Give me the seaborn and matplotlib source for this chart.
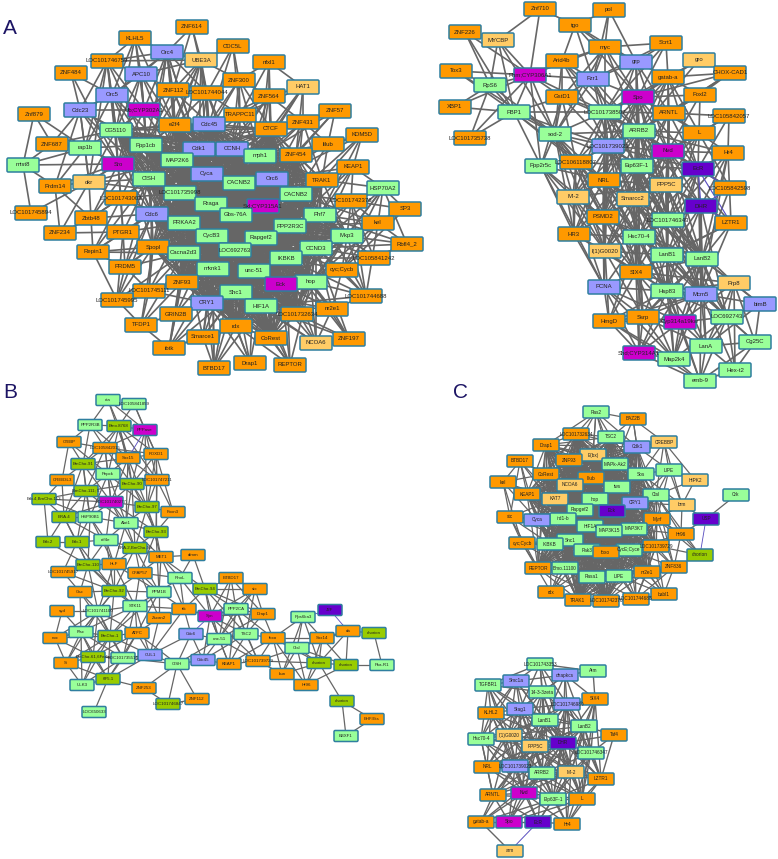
import itertools
import pandas as pd
import matplotlib
matplotlib.use("Agg")
import matplotlib.pyplot as plt
from matplotlib.patches import FancyBboxPatch
import seaborn as sns

# ---------------- NETWORK A (left) ----------------
a_labels = ["ZNF614","KLHL5","CDC5L","Orc4","UBE3A","LOC101746759","nfxl1","ZNF484","APC10","ZNF300",
            "HAT1","ZNF112","LOC101744044","Orc5","ZNF564","Cdc23","Ub;CYP302A1","ZNF57","Znf879","TRAPPC11",
            "ZNF431","Cdc45","e2f4","CTCF","CG5110","KDM5D","lilub","ZNF687","Ppp1cb","rap1b",
            "Cdk1","CCNH","ZNF454","mph1","MAP2K6","Sro","mist8","KEAP1","Cyca","CISH",
            "Orc6","TRAK1","okr","CACNB2","Prdm14","HSP70A2","LOC101735998","CACNB2","LOC101743003","LOC101742376",
            "Rraga","Sxl;CYP315A1","SP3","LOC101745894","Cdc6","Gbs-76A","Phf7","Zbtb48","PRKAA2","kel",
            "PPP2R3C","ZNF234","PTGR1","CycB3","Mkp3","Rapgef2","Rbfl4_2","Spopl","CCND3","LOC692763",
            "Repin1","Cacna2d3","IKBKB","LOC105841242","PRDM5","mknk1","cyc;Cycb","unc-51","ZNF93","hop",
            "Eck","LOC101745111","Shc1","LOC101744688","LOC101745995","CRY1","HIF1A","nr2e1","GRIN2B","LOC101732634",
            "TFDP1","rdx","Smarce1","CoRest","ZNF197","NCOA6","ibtk","Drap1","REPTOR","BTBD17"]
a_x = [192,135,233,167,201,107,269,71,141,239,
       303,173,207,112,269,80,144,335,34,240,
       303,209,175,271,116,362,328,52,146,85,
       199,232,296,260,177,118,23,353,207,149,
       272,322,89,239,55,383,180,296,121,351,
       211,263,405,31,152,236,320,91,184,378,
       290,60,123,212,347,261,407,153,316,235,
       93,184,286,374,125,213,342,254,182,311,
       281,149,236,366,117,207,261,332,176,297,
       141,236,203,271,349,316,169,250,290,214]
a_y = [27,38,46,52,60,61,62,73,74,80,
       87,90,93,95,96,110,110,111,114,115,
       122,124,125,129,130,135,144,144,145,148,
       149,149,155,156,160,164,165,167,174,179,
       179,180,182,183,186,188,193,194,198,201,
       204,206,209,213,214,215,215,218,223,223,
       226,233,232,236,236,238,244,247,248,250,
       252,253,258,258,267,269,270,271,282,282,
       284,291,292,296,300,303,306,309,314,314,
       325,326,337,338,339,343,348,363,365,368]
a_o = [0,1,2,5,6,7,9,11,12,14,17,18,19,20,22,23,25,26,27,32,37,41,44,48,49,52,53,57,59,61,62,66,67,70,73,74,76,78,81,83,84,87,88,89,90,91,92,93,94,96,97,98,99]
a_g = [24,28,29,33,34,36,39,43,45,46,47,50,55,56,58,60,63,64,65,68,69,71,72,75,77,79,82,86]
a_p = [3,8,13,15,21,30,31,38,40,54,85]
a_l = [4,10,42,95]
a_m = [16,35,51,80]
a_d = []
a_v = []

a_core = [21,22,23,24,28,30,31,32,33,34,38,39,40,41,43,46,47,50,51,54,55,56,58,60,63,64,65,67,68,69,71,72,75,77,78,79,80,82,85,86,89,91,93]
a_fans = {0:[3,4,12,11],1:[3,8,13,16,5,22,24],2:[4,9,12,21,19],3:[8,11,13,16,22,28,30,34,38,12,4,39],
          4:[8,11,12,21,22,28,30,34,38,9,39],5:[3,8,13,15,16,24,28,29,35,42,4],6:[9,14,19,23,10,33],7:[13,15,35],
          8:[11,13,16,22,24,28,34,35,39],9:[12,14,19,21,23,30,31,33],10:[14,19,20,23,32,33,43],
          11:[12,16,21,22,28,30,34,38,24],12:[19,21,22,30,31,34,38,43],13:[15,16,24,28,29,35,39,34,22],
          14:[19,20,21,23,31,33,43,40,38],15:[16,24,29,35,42,28,39,44,27],16:[22,24,28,34,35,39,30],
          17:[20,23,26,32,33,40],18:[27,29,36],19:[21,23,30,31,33,38,43,40],20:[23,26,32,33,40,41,43,47],
          25:[26,32,37,40,41,47,56],26:[32,33,40,41,47,43],
          37:[40,41,47,56,60,68,49,45],
          45:[41,49,56,59,60,64,68,76,79],49:[47,56,64,60,68,72,59,73],83:[49,56,64,68,72,76,79,87,59,86],
          52:[45,49,59,64,68,76],66:[59,73,64,76,68,56,45],59:[56,60,64,68,72,76,47,79],
          73:[56,64,68,72,79,76,60],76:[60,64,68,72,79,80,86,87,65],87:[68,72,79,80,86,77,82,94,95],
          94:[68,72,79,86,89],95:[72,79,80,86,82,77,68],98:[82,86,77,80,79,72,91,93],97:[82,85,86,77,75,91],
          99:[82,85,86,75,91,92,63,69],96:[85,88,75,71,82,78,90,92],90:[81,78,67,88,71,84],
          84:[62,67,70,74,81,78,71,54],81:[67,71,54,58,74,78,85,75],
          88:[58,71,75,85,82,63],92:[85,75,82,69,91,71,77],
          74:[54,58,62,67,70,71,39],
          70:[54,57,62,67,48,71,39],62:[35,39,46,48,54,58,57,61],
          61:[57,44,42],57:[35,39,42,44,48,54,28],53:[36,42],48:[35,39,42,46,54,28,58,34],
          44:[42,35,36,29],42:[29,35,39,28,24,34,46],36:[27,29,35],35:[28,34,39,46,54,24,29,22],
          29:[24,28,39,27],27:[24]}
a_blue = []

# ---------------- NETWORK A (right) ----------------
r_labels = ["Znf710","pol","tgo","ZNF226","MYCBP","Scrt1","myc","gro","Arid4b","grp",
            "Tox3","CHOX-CAD1","Phm;CYP306A1","gatab-a","Fzr1","RpS6","Foxl2","GstD1","Spo","XBP1",
            "FBP1","LOC101738507","ARNTL","LOC105842057","ARRB2","L","sod-2","LOC101735738","LOC101739023","Nvd",
            "Hr4","LOC106118807","Ppp2r5c","Eip63F-1","EcR","NRL","PPP5C","LOC105842598","Mi-2","Smarcc2",
            "DHR","PSMD2","LOC101746343","LZTR1","HR3","Hsc70-4","l(1)G0020","LanB1","LanB2","SIX4",
            "Prp8","PCNA","Hsp83","Mcm5","bimB","Ssrp","LOC692743","HmgD","Cyp314a19kw","Cg25C",
            "LanA","Shd;CYP314A1","Map2k4","Hex-t2","emb-9"]
r_x = [540,609,575,465,498,666,605,699,562,636,
       456,730,530,668,593,490,700,562,638,455,
       514,605,669,729,639,699,555,470,608,668,
       728,576,541,637,698,604,666,730,573,633,
       701,603,668,731,574,639,605,667,702,636,
       734,604,667,701,760,643,727,609,680,755,
       706,639,674,735,700]
r_y = [9,10,25,32,40,43,47,60,61,62,
       71,73,75,77,79,85,95,97,97,107,
       112,112,113,116,131,133,134,138,146,151,
       153,162,166,166,169,180,185,188,197,199,
       206,217,220,223,234,237,251,255,259,272,
       283,287,291,294,304,317,317,321,322,342,
       346,353,359,370,381]
r_o = [0,1,2,3,5,6,8,10,11,13,16,17,19,22,23,25,27,30,31,35,37,41,43,44,49,55,57]
r_g = [15,20,21,24,26,32,33,42,45,47,48,52,56,59,60,62,63,64]
r_p = [9,14,28,51,53,54]
r_l = [4,7,36,38,39,46,50]
r_m = [12,18,29,58,61]
r_d = [34,40]
r_v = []
r_core = []
r_fans = {0:[2,4,12],1:[2,6,9,14],2:[6,8,14,9,18],3:[12,15,20],4:[12,15,20,26],5:[6,13,14,18,21,9],
          6:[8,9,12,14,17,18,21,24,26],7:[13,18,24],8:[12,14,17,21,24,28,26],9:[13,14,18,21,24,28,33,29,22],
          10:[12,15,20,26],11:[13,16,18,22,24],12:[14,15,17,19,20,21,26,27,32],13:[16,18,21,22,24,25,28,29,33,34],
          14:[17,18,21,24,26,28,33],15:[19,20,26,27],16:[18,22,24,25,29],17:[20,21,26,28,32,31,24],
          18:[21,22,24,25,28,29,33,34,35,36,39,41,42,45,31],19:[20],20:[21,26,27,32,28,31,35],
          21:[22,24,26,28,29,31,33,35,36,38,39,41,42,45,46],22:[23,24,25,28,29,33,34,36,39,42,47],
          23:[25,30,29,34],24:[25,26,28,29,30,31,33,34,35,36,37,38,39,40,41,42,45,47,48],
          25:[29,30,33,34,36,37,42,39],26:[28,31,32,33,35,38,41,44,45,46],
          28:[29,31,33,34,35,36,38,39,40,41,42,44,45,46,47,48,49,51],
          29:[30,33,34,35,36,37,39,40,41,42,43,45,46,47,48,52,53],30:[34,36,40,42,43,48,53],
          31:[32,33,35,38,41,44,45,46,49],32:[35,38,41,44,46,51],
          33:[34,35,36,38,39,40,41,42,43,44,45,46,47,48,49,52,53],34:[36,39,42,45,47,48,52,53],
          35:[36,38,39,41,42,44,45,46,47,48,49,51,52],36:[38,39,40,41,42,43,45,46,47,48,49,52,53,56],
          37:[48],38:[41,44,45,46,49,51,47],39:[41,42,45,46,47,48,49,52,53,55],40:[45,47,48,52,53,56],
          41:[44,45,46,47,49,51,52,48],42:[45,47,48,49,52,53,50,56],43:[47,48,53,49],44:[45,46,49,51],
          45:[46,47,48,49,51,52,53,55,57,58,61],46:[47,49,51,55,57,52],47:[48,49,52,53,55,56,58,60,62],
          48:[49,50,52,53,54,55,56,58,60,62,61],49:[51,52,53,55,57,58,61,62,50],50:[52,53,54,56,58,59,60,63],
          51:[52,55,57,58,61,62],52:[53,55,56,57,58,60,61,62,64],53:[54,55,56,57,58,59,60,62,63,64],
          54:[56,59,60],55:[57,58,60,61,62],56:[58,59,60,62,63,64],57:[58,61,62,64],58:[60,61,62,64],
          59:[60,63,64],60:[62,63,64],61:[62,64],62:[64],63:[64]}
r_blue = [[34,40],[34,37],[40,42],[40,37],[40,43],[34,43]]

# ---------------- NETWORK B ----------------
b_labels = ["cta","LOC105841859","PPP2R3B","Bmo.8768","PPPase","C/EBP","LOC105842015","FOXD1","Sox15","BmCho-91",
            "Pepck","CREB3L3","LOC101747211","BmCho-90","BmCho-111; 5","Erb.4,BmCho-113","LOC101740277","BmCho-97","Foxn3","ERA.4",
            "HSP90B1","Alot1","BmCho-93","eif4e","Erb.2","Erb.1","ERA.2,BmCho-90","dimm","MET1","HLF",
            "BmCho-110","LOC101745917","CFAP57","RhoL","BTBD17","BmCho-94","stc","BmCho-92","Gsc","PPM1B",
            "STK11","PPP2CA","ttk","J2F","syd","LOC101741100","Drap1","Syn","Rps6ka3","Zscan2",
            "da","Flsc","ATFC","chorion","TSC2","Cdc6","BmCho-1","foxo","noc","Sox14",
            "unc-51","Ctsl","CUL1","BmCho-61,6Ferlin","LOC101735516","Cdc45","LOC101739729","Si","chorion","CISH",
            "KEAP1","chorion","Pka-R1","bun","6F5.1","ULK3","Hr96","ZNF253","ZNF112","chorion",
            "LOC101746847","LOC650633","EHF.Ets","BBXF1"]
b_x = [108,134,90,119,145,69,105,156,128,83,
       108,62,157,132,86,44,111,147,173,64,
       90,126,156,106,48,77,135,193,161,114,
       88,63,140,180,231,205,255,114,80,159,
       135,236,184,330,62,98,263,210,303,159,
       348,81,137,374,246,191,110,273,55,322,
       219,297,150,93,123,203,258,66,319,177,
       229,346,382,282,108,82,306,144,197,342,
       168,94,372,346]
b_y = [400,404,425,426,430,442,448,454,458,464,
       474,480,480,484,491,499,502,507,512,517,
       517,523,532,540,542,542,548,555,557,564,
       565,572,573,578,578,589,589,591,592,592,
       606,609,609,610,611,611,614,616,617,618,
       631,632,633,633,634,634,636,638,638,638,
       639,648,655,657,658,660,661,663,663,664,
       664,665,665,674,679,685,685,688,699,701,
       704,712,719,736]
b_o = [5,6,7,8,11,12,18,27,28,29,31,32,34,36,38,42,44,46,49,50,52,57,58,59,66,67,70,73,76,77,78,82]
b_g = [0,1,2,10,20,21,23,33,39,40,41,45,48,51,54,60,61,64,69,72,75,81,83]
b_p = [55,62,65]
b_l = []
b_m = [4,16,47]
b_d = [43]
b_v = [3,9,13,14,15,17,19,22,24,25,26,30,35,37,53,56,63,68,71,74,79,80]
b_core = []
b_fans = {0:[2,3,4,8],1:[3,4,7],2:[3,5,6,8,9],3:[4,6,7,8,9,10,13,12],4:[6,7,8,12,13,17],5:[6,9,11,10],
          6:[7,8,9,10,13,14,16],7:[8,12,13,17,18,22],8:[9,10,12,13,16,17,21],9:[10,11,14,16,19,20],
          10:[13,14,16,17,21,20],11:[14,15,19],12:[13,17,22,18],13:[16,17,21,22,26,14],14:[15,16,19,20,21,25],
          15:[16,19,20,24],16:[17,19,20,21,22,23,26],17:[18,21,22,26,28],18:[22],19:[20,24,25,23,30],
          20:[21,23,25,29,30],21:[22,23,26,28,29],22:[26,28,32,39],23:[25,26,29,30,37],24:[25,30],25:[30,31,37],
          26:[28,29,32,37,39],27:[28,33,35],28:[32,33,35,39,42],29:[30,32,37,39,40,45],30:[31,37,38,45,40],
          31:[38,37],32:[37,39,40,49,33],33:[35,39,42,47],34:[35,36,41,46,47,60],35:[36,41,42,46,47,54,60],
          36:[41,46,47,60,54],37:[38,39,40,45,51,56],38:[45,51,56],39:[40,42,49,52,56],40:[45,49,52,56,51,42,64,62],
          41:[46,47,54,57,60,70,66],42:[47,49,55,62],44:[45,51,58],45:[51,52,56,63,64,58,67],46:[54,57,47,60],
          47:[54,55,60,65,70,66],48:[57,59,61,68,73],49:[52,62],50:[53,59,61,68,71],51:[56,58,63,64,67,74,75],
          52:[56,62,63,64,74,69],53:[72],54:[57,60,66,70,65],55:[60,65,69,62],56:[58,62,63,64,67,74,75],
          57:[59,61,66,68,73,76,70],58:[63,67],59:[61,68,71,76],60:[65,66,69,70],61:[66,68,71,73,76],
          62:[64,69,74],63:[64,67,74,75],64:[74,75,69],65:[69,70],66:[68,70,73],68:[71,73,76,79],71:[72,76],
          67:[74,75],69:[77,78,80],74:[75,77,81],77:[80],78:[80],79:[82,83],82:[83],72:[71]}
b_blue = [[43,48],[43,50],[55,47],[4,8]]

# ---------------- NETWORK C (top) ----------------
c_labels = ["Ras2","BAZ2B","LOC101732634","TSC2","CREBBP","Drap1","Cdk1","E(bx)","ZNF93","BTBD17",
            "MAPk-Ak2","LIPE","CoRest","Sos","lilub","HIPK2","kel","NCOA6","tws","KEAP1",
            "Crk","Ctsl","KAT7","hop","CRY1","brm","Rapgef2","Eck","stc","ird1-b",
            "Myrf","USP","Cyca","HIF1A","MAP3K7","MAP3K15","Hr96","Shc1","cyc;Cycb","IKBKB",
            "LOC101739729","Pak3","CycE;Cyce","foxo","chorion","REPTOR","ZNF836","Bmo.11100","nr2e1","LIPE",
            "Rasa1","rdx","babl1","LOC101744688","TRAK1","LOC101742376"]
c_x = [596,633,576,611,664,546,637,593,569,520,
       615,669,546,641,591,695,503,570,617,527,
       736,656,555,595,635,682,580,612,510,563,
       657,706,537,590,634,609,681,570,522,550,
       656,587,629,606,700,538,674,565,647,619,
       592,551,664,636,578,606]
c_y = [412,419,434,437,442,445,447,455,460,461,
       464,470,474,474,478,480,482,485,487,494,
       495,495,499,499,503,505,510,511,517,519,
       519,519,520,526,529,531,534,540,543,544,
       546,550,550,552,555,568,567,568,572,576,
       577,592,594,599,600,601]
c_o = [1,2,5,8,9,12,14,16,19,28,30,36,38,40,43,45,46,48,51,52,53,54,55]
c_g = [0,3,10,11,13,18,20,21,23,26,29,33,34,35,37,39,41,42,47,49,50]
c_p = [6,24,32]
c_l = [4,7,15,17,22,25]
c_m = []
c_d = [27,31]
c_v = [44]
c_core = [2,3,5,6,7,8,10,12,13,14,17,18,19,21,22,23,24,26,27,29,30,32,33,34,35,37,39,40,41,42,43,45,47,48,49,50,54,55]
c_fans = {0:[1,2,3,5,7,8,10,14,18,6],1:[3,4,6,10,13],4:[6,11,13,15,21,25,10],
          9:[12,16,19,22,28,17,29,32],11:[13,15,21,25,24,30,6],15:[21,25],
          16:[19,12,22,28,32,38,29,26],25:[13,21,24,30,36,34],
          28:[32,38,22,29,39,37,45],38:[39,37,45,47,51,41],
          51:[37,39,47,50,54,41,43,33],
          53:[42,43,48,49,50,52,34,40,46,35],52:[40,46,48,49,42,43,34],
          46:[40,36,48,30,34,42,21],36:[30,34,40,21,24,42],44:[30,36,40,46,21],31:[20,25,36]}
c_blue = [[31,44]]

# ---------------- NETWORK C (bottom) ----------------
d_labels = ["LOC101743353","Atm","dnapkcs","Smc1a","TGFBR1","14-3-3zeta","SIX4","LOC101746980","Stag1","KLHL2",
            "LanB1","LanB2","Taf4","l(1)G0020","Hsc70-4","DHR","PPP5C","LOC101746347","LOC101739023","NRL",
            "Mi-2","ARRB2","LZTR1","Nvd","ARNTL","Eip63F-1","L","gatab-a","Spo","EcR","Hr4","arm"]
d_x = [540,593,565,516,488,542,595,567,520,491,
       545,584,614,509,481,563,535,591,515,487,
       571,542,601,524,493,553,582,481,509,538,567,510]
d_y = [664,671,675,681,685,692,699,704,709,713,
       720,726,735,735,739,743,746,753,766,767,
       772,773,779,793,795,799,799,822,822,822,824,851]
d_o = [6,9,12,19,22,24,26,27,30]
d_g = [0,1,4,5,10,11,14,17,21,25]
d_p = [2,3,7,8,18]
d_l = [13,16,20,31]
d_m = [23,28]
d_d = [15,29]
d_v = []
d_core = [5,7,8,10,11,13,15,16,18,20,21]
d_fans = {0:[1,2,3,5,7,8,10,4,15],1:[2,6],2:[3,5,7,10,8,15,6,11],3:[4,5,8,9,10,13,16,14,15],
          4:[5,8,9,10,13,14,16,18],6:[7,11,15,17,20,22,26],7:[17,22,26,25],8:[9,14,19,23,25],
          9:[10,13,14,15,16,18,19,21,23],10:[14,17,19,22,23,25,26],11:[12,17,22,23,25,26,19],12:[15,17,22],
          13:[14,19,23,24,25],14:[15,16,18,19,21,23,24],15:[19,22,23,24,25,26,30],16:[19,22,23,24,25,26,28],
          17:[20,21,22,25,26,30],18:[19,23,24,25,26,27,28,29],19:[21,23,24,25],20:[22,23,24,25,26,29,30],
          21:[22,23,24,25,26,27,28,29,30],22:[25,26,30],23:[24,26,27,28,29,30],24:[25,27,28,29],
          25:[26,27,28,29,30],26:[28,29,30],27:[31,28],29:[30,28]}
d_blue = [[29,31],[23,25],[15,17]]

# ---------------- STYLE ----------------
kind_colors = {"o":"#FF9900","g":"#99FF99","p":"#9999FF","l":"#FFCC66",
               "m":"#CC00CC","d":"#6600CC","v":"#99CC00"}
EDGE_GREY = "#666666"
EDGE_BLUE = "#5a4fc0"
BORDER = "#2f7f9f"

sns.set_theme(style="white")
plt.rcParams["font.family"] = ["Liberation Sans", "DejaVu Sans"]


def make_kinds(n, o, g, p, l, m, d, v):
    kinds = [""] * n
    for name, idx in [("o",o),("g",g),("p",p),("l",l),("m",m),("d",d),("v",v)]:
        for i in idx:
            kinds[i] = name
    return kinds


def edge_frame(x, y, pairs):
    rows = []
    for k, (i, j) in enumerate(pairs):
        rows.append((k, x[i], y[i]))
        rows.append((k, x[j], y[j]))
    return pd.DataFrame(rows, columns=["edge", "x", "y"])


def draw_net(ax, labels, x, y, kinds, core, fans, blue, w, h, font, lw):
    pairs = set(tuple(sorted(p)) for p in itertools.combinations(core, 2))
    for i, targets in fans.items():
        for j in targets:
            if i != j:
                pairs.add(tuple(sorted((i, j))))
    blue_pairs = set(tuple(sorted(p)) for p in blue)
    pairs = sorted(pairs - blue_pairs)

    sns.lineplot(data=edge_frame(x, y, pairs), x="x", y="y", units="edge", estimator=None,
                 sort=False, color=EDGE_GREY, linewidth=lw, legend=False, ax=ax, zorder=1)
    if blue_pairs:
        sns.lineplot(data=edge_frame(x, y, sorted(blue_pairs)), x="x", y="y", units="edge", estimator=None,
                     sort=False, color=EDGE_BLUE, linewidth=lw * 0.7, legend=False, ax=ax, zorder=1)

    # node box as a custom marker: widest side maps to sqrt(s) points
    box = FancyBboxPatch((-w / 2, -h / 2), w, h, boxstyle="round,pad=0,rounding_size=1.2").get_path()
    nodes = pd.DataFrame({"x": x, "y": y, "kind": kinds})
    sns.scatterplot(data=nodes, x="x", y="y", hue="kind", palette=kind_colors, marker=box,
                    s=(w * 72 / 100) ** 2, edgecolor=BORDER, linewidth=1.1, legend=False, ax=ax, zorder=3)
    for label, px, py in zip(labels, x, y):
        ax.text(px, py, label, ha="center", va="center", fontsize=font, color="#222222", zorder=4)


fig = plt.figure(figsize=(7.78, 8.59), dpi=100)
ax = fig.add_axes([0, 0, 1, 1])

draw_net(ax, a_labels, a_x, a_y, make_kinds(len(a_labels), a_o, a_g, a_p, a_l, a_m, a_d, a_v),
         a_core, a_fans, a_blue, 32, 14, 4.3, 1.2)
draw_net(ax, r_labels, r_x, r_y, make_kinds(len(r_labels), r_o, r_g, r_p, r_l, r_m, r_d, r_v),
         r_core, r_fans, r_blue, 32, 14, 4.3, 1.2)
draw_net(ax, b_labels, b_x, b_y, make_kinds(len(b_labels), b_o, b_g, b_p, b_l, b_m, b_d, b_v),
         b_core, b_fans, b_blue, 24, 11, 3.2, 0.9)
draw_net(ax, c_labels, c_x, c_y, make_kinds(len(c_labels), c_o, c_g, c_p, c_l, c_m, c_d, c_v),
         c_core, c_fans, c_blue, 26, 12, 3.4, 0.9)
draw_net(ax, d_labels, d_x, d_y, make_kinds(len(d_labels), d_o, d_g, d_p, d_l, d_m, d_d, d_v),
         d_core, d_fans, d_blue, 26, 12, 3.4, 1.0)

for letter, lx, ly in [("A", 10, 28), ("B", 10, 393), ("C", 461, 393)]:
    ax.text(lx, ly, letter, ha="center", va="center", fontsize=15, color="#1c1464")

ax.set_xlim(0, 778)
ax.set_ylim(859, 0)
ax.axis("off")

fig.savefig("out.png", dpi=100, facecolor="white")
